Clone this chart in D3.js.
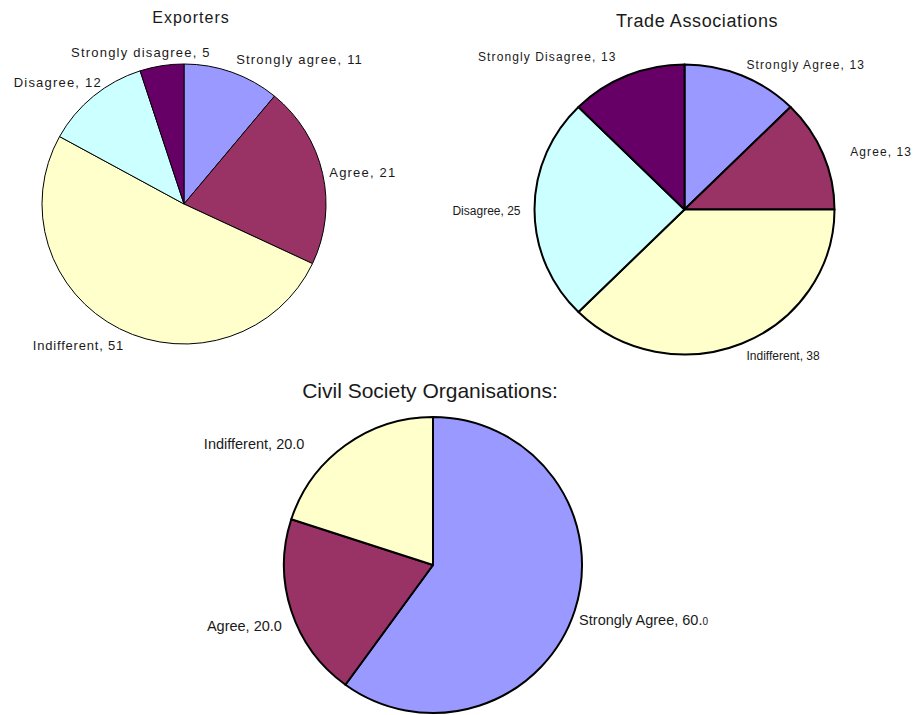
<!DOCTYPE html>
<html>
<head>
<meta charset="utf-8">
<script src="https://cdn.jsdelivr.net/npm/d3@7"></script>
<style>
  body { margin: 0; background: #fff; }
  svg { display: block; }
  text { font-family: "Liberation Sans", Arial, sans-serif; fill: #1a1a1a; }
</style>
</head>
<body>
<div id="chart"></div>
<script>
// data
const exporterLabels = ["Strongly agree", "Agree", "Indifferent", "Disagree", "Strongly disagree"];
const exporterValues = [11, 21, 51, 12, 5];

const tradeLabels = ["Strongly Agree", "Agree", "Indifferent", "Disagree", "Strongly Disagree"];
const tradeValues = [12.5, 12.5, 37.5, 25, 12.5];

const civilLabels = ["Strongly Agree", "Agree", "Indifferent"];
const civilValues = [60, 20, 20];

const colorOf = {
    "strongly agree": "#9999ff",
    "agree": "#993366",
    "indifferent": "#ffffcc",
    "disagree": "#ccffff",
    "strongly disagree": "#660066"
};

const W = 917, H = 715;
const svg = d3.select("#chart").append("svg").attr("width", W).attr("height", H);

// one pie: layout + style options
function drawPie(opt) {
    const g = svg.append("g").attr("transform", `translate(${opt.cx},${opt.cy})`);
    const pie = d3.pie().sort(null).value(d => d.value);
    const arcs = pie(opt.labels.map((l, i) => ({ label: l, value: opt.values[i] })));
    const arc = d3.arc().innerRadius(0).outerRadius(opt.rx);

    g.append("g")
        .attr("transform", `scale(1,${opt.ry / opt.rx})`)
        .selectAll("path")
        .data(arcs)
        .join("path")
        .attr("d", arc)
        .attr("fill", d => colorOf[d.data.label.toLowerCase()])
        .attr("stroke", "#000")
        .attr("stroke-width", opt.stroke)
        .attr("vector-effect", "non-scaling-stroke")
        .attr("stroke-linejoin", "round");

    svg.append("text")
        .attr("x", opt.titleX).attr("y", opt.titleY)
        .attr("text-anchor", "middle")
        .style("font-size", opt.titleSize + "px")
        .style("letter-spacing", opt.titleSpacing + "px")
        .text(opt.title);

    const lab = g.selectAll("text.lbl")
        .data(arcs)
        .join("text")
        .attr("class", "lbl")
        .each(function(d, i) {
            const a = (d.startAngle + d.endAngle) / 2;
            const s = Math.sin(a), c = Math.cos(a);
            const nudge = opt.nudge[i];
            const t = d3.select(this)
                .attr("x", (opt.rx + opt.gap) * s + nudge[0])
                .attr("y", -(opt.ry + opt.gap) * c + nudge[1])
                .attr("text-anchor", s > 0.25 ? "start" : (s < -0.25 ? "end" : "middle"))
                .attr("dy", Math.abs(s) >= 0.7 ? "0.35em" : (c > 0 ? "-0.25em" : "0.9em"))
                .style("font-size", opt.fontSize[i] + "px")
                .style("letter-spacing", opt.spacing[i] + "px");
            const txt = opt.format(d.data.value);
            if (opt.smallLast && s > 0.7) {
                t.text(d.data.label + ", " + txt.slice(0, -1));
                t.append("tspan").style("font-size", "10px").style("letter-spacing", "0px").text(txt.slice(-1));
            } else {
                t.text(d.data.label + ", " + txt);
            }
        });
}

drawPie({
    title: "Exporters", titleX: 191, titleY: 23, titleSize: 16, titleSpacing: 1,
    labels: exporterLabels, values: exporterValues,
    cx: 184, cy: 204, rx: 142, ry: 140, gap: 12, stroke: 1,
    format: d3.format("d"),
    fontSize: [13, 13, 13, 13, 13], spacing: [1.2, 1.2, 0.8, 1.2, 1.2],
    nudge: [[0, 6], [-5, 2], [10, -1], [16, 3], [-19, 6]]
});

drawPie({
    title: "Trade Associations", titleX: 697, titleY: 27, titleSize: 18, titleSpacing: 0.6,
    labels: tradeLabels, values: tradeValues,
    cx: 684.5, cy: 209.5, rx: 150, ry: 145, gap: 12, stroke: 2,
    format: v => String(Math.round(v)),
    fontSize: [12, 12, 12, 12, 12], spacing: [1.1, 1.1, 0, 0, 1.1],
    nudge: [[0, 8], [16, 2], [0, -5], [-2, 1], [-6, 0]]
});

drawPie({
    title: "Civil Society Organisations:", titleX: 430, titleY: 398, titleSize: 21, titleSpacing: 0,
    labels: civilLabels, values: civilValues,
    cx: 433, cy: 565, rx: 149, ry: 148, gap: 12, stroke: 2,
    format: d3.format(".1f"), smallLast: true,
    fontSize: [14.5, 14.5, 14.5], spacing: [0, 0, 0],
    nudge: [[-7, 5], [2, 11], [-34, 17]]
});
</script>
</body>
</html>
